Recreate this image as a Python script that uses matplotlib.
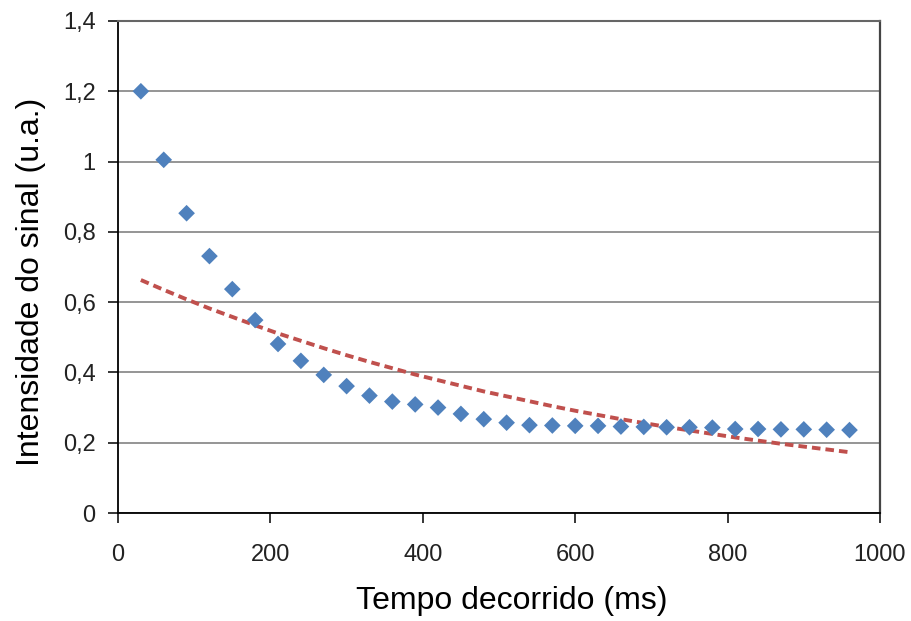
import matplotlib
matplotlib.use("Agg")
import matplotlib.pyplot as plt
from matplotlib.ticker import FuncFormatter

time_ms = [30, 60, 90, 120, 150, 180, 210, 240, 270, 300, 330, 360, 390, 420, 450, 480,
           510, 540, 570, 600, 630, 660, 690, 720, 750, 780, 810, 840, 870, 900, 930, 960]
signal = [1.200, 1.005, 0.853, 0.731, 0.637, 0.549, 0.481, 0.433, 0.393, 0.361, 0.334,
          0.317, 0.309, 0.300, 0.282, 0.267, 0.257, 0.250, 0.249, 0.248, 0.248, 0.246,
          0.245, 0.244, 0.244, 0.243, 0.239, 0.239, 0.238, 0.238, 0.237, 0.236]
trend = [0.663, 0.635, 0.608, 0.582, 0.558, 0.534, 0.511, 0.490, 0.469, 0.449, 0.430,
         0.412, 0.394, 0.378, 0.362, 0.346, 0.332, 0.318, 0.304, 0.291, 0.279, 0.267,
         0.256, 0.245, 0.235, 0.225, 0.215, 0.206, 0.197, 0.189, 0.181, 0.173]
x_ticks = [0, 200, 400, 600, 800, 1000]
y_ticks = [0, 0.2, 0.4, 0.6, 0.8, 1.0, 1.2, 1.4]

plt.rcParams['font.family'] = ['Liberation Sans', 'DejaVu Sans']

fig = plt.figure(figsize=(9.12, 6.21), dpi=100)
ax = fig.add_axes([0.1294, 0.1739, 0.8355, 0.7923])

ax.set_xlim(0, 1000)
ax.set_ylim(0, 1.4)
ax.set_xticks(x_ticks)
ax.set_yticks(y_ticks)

def yfmt(v, pos):
    if abs(v - round(v)) < 1e-9:
        return str(int(round(v)))
    return f"{v:.1f}".replace('.', ',')

ax.yaxis.set_major_formatter(FuncFormatter(yfmt))
ax.xaxis.set_major_formatter(FuncFormatter(lambda v, p: f"{int(v)}"))

ax.grid(axis='y', color='#8c8c8c', linewidth=1.3, zorder=0)
ax.set_axisbelow(True)

ax.plot(time_ms, trend, linestyle=(0, (2.2, 1.3)), color='#c0504d', linewidth=2.8, zorder=2)
ax.scatter(time_ms, signal, marker='D', s=72, color='#4f81bd', edgecolors='none', zorder=3)

for side in ['left', 'bottom']:
    ax.spines[side].set_color('black')
    ax.spines[side].set_linewidth(1.3)
ax.spines['right'].set_color('#444444')
ax.spines['right'].set_linewidth(1.6)
ax.spines['top'].set_color('#666666')
ax.spines['top'].set_linewidth(1.5)

ax.tick_params(axis='both', direction='out', length=7.2, width=1.1, color='black',
               labelsize=17, labelcolor='#222222')
ax.tick_params(axis='y', pad=9)
ax.tick_params(axis='x', pad=15)

ax.set_xlabel('Tempo decorrido (ms)', fontsize=23)
ax.set_ylabel('Intensidade do sinal (u.a.)', fontsize=23)
ax.xaxis.set_label_coords(0.517, -0.148)
ax.yaxis.set_label_coords(-0.095, 0.47)

fig.savefig('out.png', dpi=100, facecolor='white')
